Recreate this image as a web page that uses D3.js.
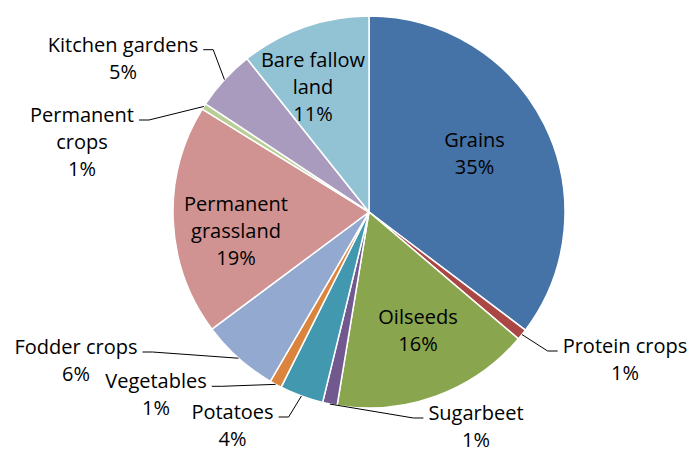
<!DOCTYPE html>
<html>
<head>
<meta charset="utf-8">
<script src="https://cdn.jsdelivr.net/npm/d3@7"></script>
<style>
  body { margin: 0; background: #fff; }
  text { font-family: "Open Sans", sans-serif; }
</style>
</head>
<body>
<script>
// land use shares (%)
const categories = ['Grains', 'Protein crops', 'Oilseeds', 'Sugarbeet', 'Potatoes', 'Vegetables',
  'Fodder crops', 'Permanent grassland', 'Permanent crops', 'Kitchen gardens', 'Bare fallow land']
const shares = [35.3, 0.9, 16.4, 1.2, 3.6, 1.0, 6.4, 19.0, 0.5, 5.0, 10.7]
const colors = ['#4572A7', '#AA4643', '#89A54E', '#71588F', '#4198AF', '#DB843D',
  '#93A9CF', '#D19392', '#B9CD96', '#A99BBD', '#92C3D5']

// how the labels wrap, and where they sit (relative to the pie centre)
const wrap = {
  'Permanent grassland': ['Permanent', 'grassland'],
  'Permanent crops': ['Permanent', 'crops'],
  'Bare fallow land': ['Bare fallow', 'land']
}
const labelAt = {
  'Grains': [105.5, -65.3, 'in'],
  'Oilseeds': [49, 112.3, 'in'],
  'Permanent grassland': [-133, -1, 'in'],
  'Bare fallow land': [-56, -145.3, 'in'],
  'Protein crops': [256, 141, 'out'],
  'Sugarbeet': [107, 208, 'out'],
  'Potatoes': [-136.5, 207, 'out'],
  'Vegetables': [-213, 176.3, 'out'],
  'Fodder crops': [-293, 142, 'out'],
  'Permanent crops': [-287, -90, 'out'],
  'Kitchen gardens': [-246, -160.3, 'out']
}

const width = 691
const height = 453
const cx = 369
const cy = 212
const radius = 196
const lineH = 27
const fontSize = 20

const data = categories.map((c, i) => ({ name: c, value: shares[i], color: colors[i] }))
const total = d3.sum(shares)

const pie = d3.pie().sort(null).value(d => d.value)
const arc = d3.arc().innerRadius(0).outerRadius(radius)
const rim = d3.arc().innerRadius(radius).outerRadius(radius)

const svg = d3.select('body').append('svg')
  .attr('width', width)
  .attr('height', height)

const g = svg.append('g').attr('transform', `translate(${cx},${cy})`)

const arcs = pie(data)

g.selectAll('path.slice')
  .data(arcs)
  .enter()
  .append('path')
  .attr('class', 'slice')
  .attr('d', arc)
  .style('fill', d => d.data.color)
  .style('stroke', '#fff')
  .style('stroke-width', 1.5)

const labels = g.selectAll('g.label')
  .data(arcs)
  .enter()
  .append('g')
  .attr('class', 'label')

labels.each(function (d) {
  const el = d3.select(this)
  const pos = labelAt[d.data.name]
  const lines = (wrap[d.data.name] || [d.data.name]).concat(Math.round(d.data.value / total * 100) + '%')
  const t = el.append('text')
    .attr('text-anchor', 'middle')
    .attr('font-size', fontSize + 'px')
    .attr('fill', '#000')
  lines.forEach((s, i) => {
    t.append('tspan').attr('x', pos[0]).attr('y', pos[1] + i * lineH).text(s)
  })
  if (pos[2] === 'out') {
    // leader from slice rim to the label box
    let w = 0
    t.selectAll('tspan').each(function () { w = Math.max(w, this.getComputedTextLength()) })
    const p = rim.centroid(d)
    const left = pos[0] < p[0]
    const sx = left ? pos[0] + w / 2 + 5 : pos[0] - w / 2 - 5
    const ex = left ? sx + 10 : sx - 10
    const y = pos[1] - 2
    el.insert('polyline', 'text')
      .attr('points', [[sx, y], [ex, y], p].join(' '))
      .style('fill', 'none')
      .style('stroke', '#000')
      .style('stroke-width', 1)
  }
})
</script>
</body>
</html>
